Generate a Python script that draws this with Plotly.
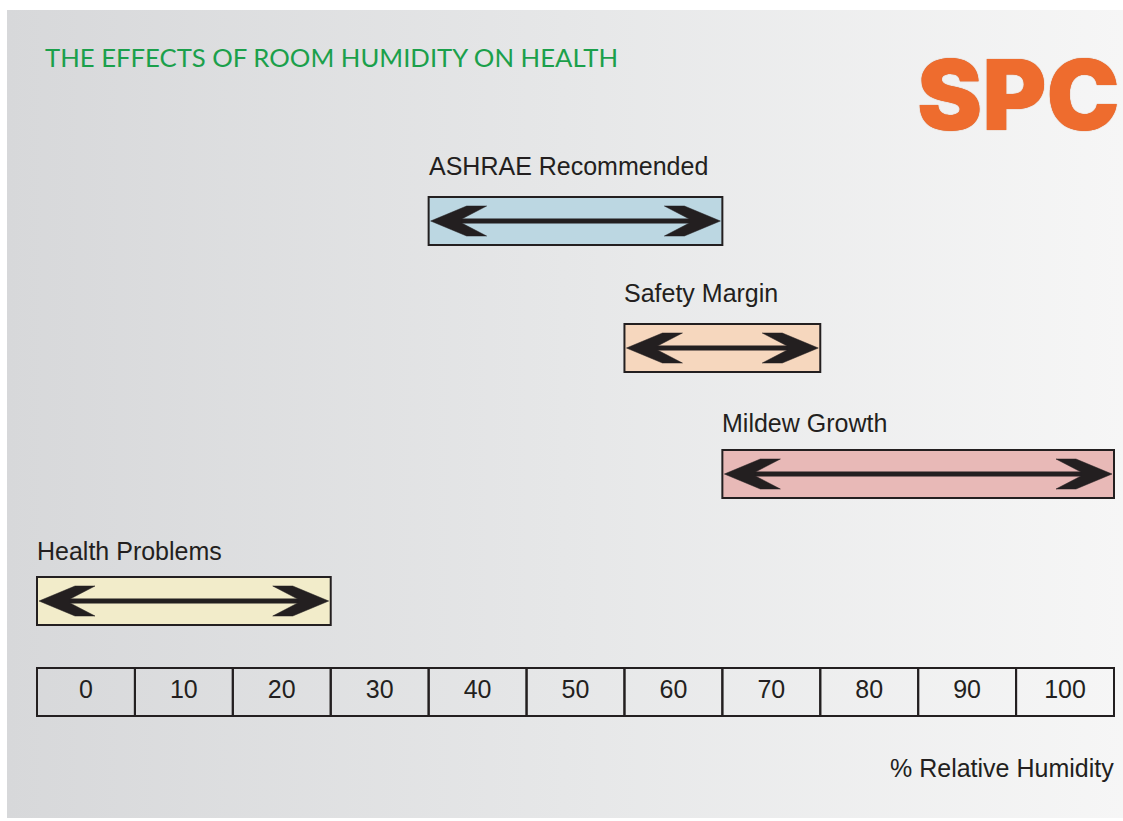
import plotly.graph_objects as go

# ---------------- data ----------------
TITLE = "THE EFFECTS OF ROOM HUMIDITY ON HEALTH"
BRAND = "SPC"
RANGE_NAMES = ["ASHRAE Recommended", "Safety Margin", "Mildew Growth", "Health Problems"]
RANGE_START = [40, 60, 70, 0]     # % RH (first scale cell covered)
RANGE_END = [60, 70, 100, 20]     # % RH (last scale cell covered)
SCALE_TICKS = [0, 10, 20, 30, 40, 50, 60, 70, 80, 90, 100]
AXIS_TITLE = "% Relative Humidity"

# ---------------- style / layout ----------------
W, H = 1123, 821
RANGE_COLORS = ["#bcd7e2", "#f6d7be", "#e8b9b7", "#f2ecca"]
INK = "#231f20"
ROW_Y = [221, 348, 474, 601]       # box centres (pixel rows)
LABEL_Y = [166, 293, 423, 551]
SCALE_Y = 692
BOX_H = 48
CELL = 10                          # humidity units per scale cell
X_LEFT_PX, X_RIGHT_PX = 37, 1114   # left/right edge of scale
PXU = (X_RIGHT_PX - X_LEFT_PX) / (len(SCALE_TICKS) * CELL)   # px per % unit
X0 = -CELL / 2 - X_LEFT_PX / PXU
X1 = SCALE_TICKS[-1] + CELL / 2 + (W - X_RIGHT_PX) / PXU

fig = go.Figure()

# background panel with horizontal gradient (pixel axes x/y)
fig.add_trace(go.Scatter(
    x=[7, W, W, 7, 7], y=[10, 10, 818, 818, 10], mode="lines", fill="toself",
    line=dict(width=0), hoverinfo="skip", showlegend=False,
    fillgradient=dict(type="horizontal", start=7, stop=W,
                      colorscale=[[0, "#d7d8da"], [0.5, "#e6e7e8"], [1, "#f6f6f6"]]),
    xaxis="x", yaxis="y"))

# range boxes
fig.add_trace(go.Bar(
    orientation="h",
    base=[s - CELL / 2 for s in RANGE_START],
    x=[e - s + CELL for s, e in zip(RANGE_START, RANGE_END)],
    y=ROW_Y, width=BOX_H,
    marker=dict(color=RANGE_COLORS, line=dict(color=INK, width=2)),
    hoverinfo="skip", showlegend=False, xaxis="x2", yaxis="y2"))

# scale cells
fig.add_trace(go.Bar(
    orientation="h",
    base=[t - CELL / 2 for t in SCALE_TICKS],
    x=[CELL] * len(SCALE_TICKS),
    y=[SCALE_Y] * len(SCALE_TICKS), width=BOX_H,
    marker=dict(color="rgba(0,0,0,0)", line=dict(color=INK, width=2)),
    hoverinfo="skip", showlegend=False, xaxis="x2", yaxis="y2"))

fig.add_trace(go.Scatter(
    x=SCALE_TICKS, y=[SCALE_Y] * len(SCALE_TICKS), mode="text",
    text=[str(t) for t in SCALE_TICKS], textposition="middle center",
    textfont=dict(family="Liberation Sans, Arial", size=25, color=INK),
    hoverinfo="skip", showlegend=False, xaxis="x2", yaxis="y2"))

# double-headed arrows inside each box
TIP_IN = 2 / PXU
HEAD = [(0, 0), (36, -15), (56, -15), (31, -2), (31, 2), (56, 15), (36, 15), (0, 0)]
for s, e, yc in zip(RANGE_START, RANGE_END, ROW_Y):
    xl = s - CELL / 2 + TIP_IN
    xr = e + CELL / 2 - TIP_IN
    fig.add_trace(go.Scatter(
        x=[xl + 20 / PXU, xr - 20 / PXU], y=[yc, yc], mode="lines",
        line=dict(color=INK, width=5), hoverinfo="skip", showlegend=False,
        xaxis="x2", yaxis="y2"))
    hx, hy = [], []
    for dx, dy in HEAD:
        hx.append(xl + dx / PXU); hy.append(yc + dy)
    hx.append(None); hy.append(None)
    for dx, dy in HEAD:
        hx.append(xr - dx / PXU); hy.append(yc + dy)
    fig.add_trace(go.Scatter(
        x=hx, y=hy, mode="lines", fill="toself", fillcolor=INK,
        line=dict(color=INK, width=0.5), hoverinfo="skip", showlegend=False,
        xaxis="x2", yaxis="y2"))

annotations = []
for name, s, ly in zip(RANGE_NAMES, RANGE_START, LABEL_Y):
    annotations.append(dict(
        x=s - CELL / 2, y=ly, xref="x2", yref="y2", text=name, showarrow=False,
        xanchor="left", yanchor="middle", xshift=-2,
        font=dict(family="Liberation Sans, Arial", size=25, color=INK)))

annotations.append(dict(
    x=SCALE_TICKS[-1] + CELL / 2, y=768, xref="x2", yref="y2", text=AXIS_TITLE,
    showarrow=False, xanchor="right", yanchor="middle", xshift=2,
    font=dict(family="Liberation Sans, Arial", size=25, color=INK)))

annotations.append(dict(
    x=43, y=57, xref="x", yref="y", text=TITLE, showarrow=False,
    xanchor="left", yanchor="middle",
    font=dict(family="Lato", size=25.7, color="#1ba04b")))

annotations.append(dict(
    x=1122, y=94, xref="x", yref="y", text=BRAND, showarrow=False,
    xanchor="right", yanchor="middle",
    font=dict(family="Inter", size=98, weight=900, color="#ee6c2e",
              shadow="0px 0px 1px #c4521c")))

fig.update_layout(
    width=W, height=H, margin=dict(l=0, r=0, t=0, b=0),
    paper_bgcolor="white", plot_bgcolor="rgba(0,0,0,0)",
    barmode="overlay", showlegend=False,
    xaxis=dict(range=[0, W], visible=False, fixedrange=True),
    yaxis=dict(range=[H, 0], visible=False, fixedrange=True),
    xaxis2=dict(range=[X0, X1], visible=False, overlaying="x", fixedrange=True),
    yaxis2=dict(range=[H, 0], visible=False, overlaying="y", fixedrange=True),
    annotations=annotations,
)

fig.write_html("out.html", config={"displayModeBar": False},
               post_script="document.body.style.margin='0';")
